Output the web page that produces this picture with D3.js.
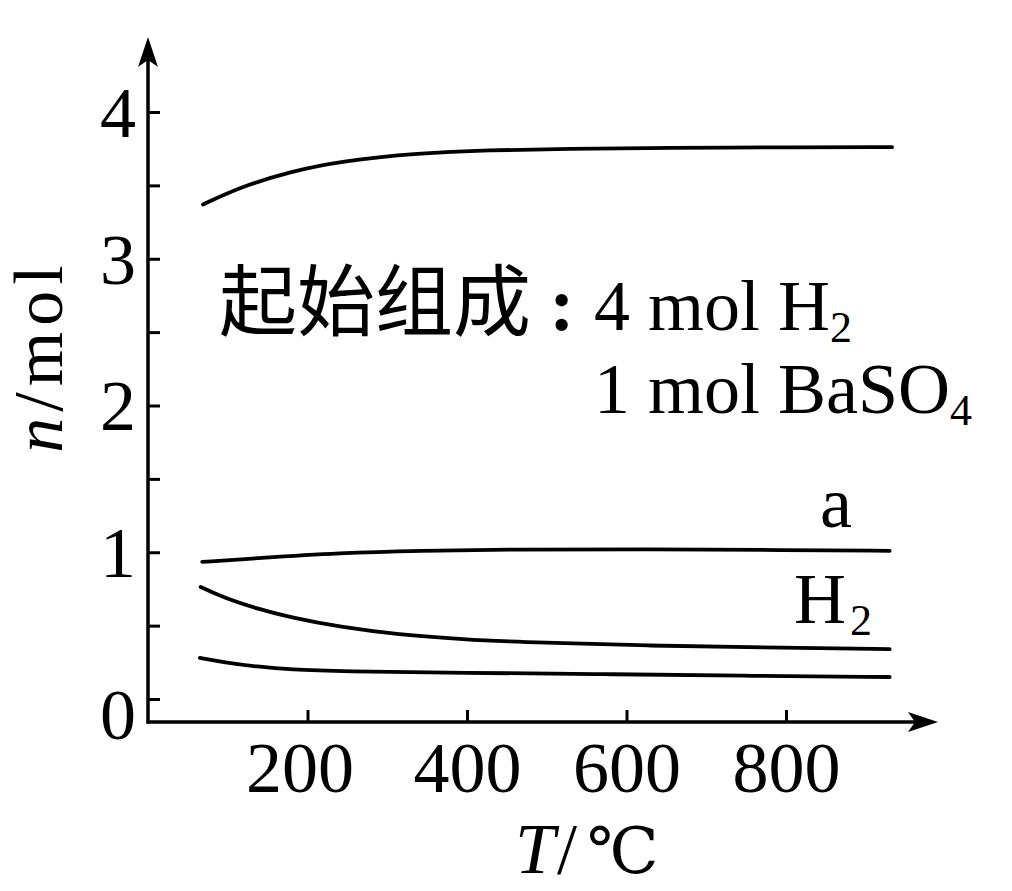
<!DOCTYPE html>
<html>
<head>
<meta charset="utf-8">
<script src="https://cdn.jsdelivr.net/npm/d3@7"></script>
<style>
  body { margin: 0; background: white; }
  svg { display: block; }
</style>
</head>
<body>
<div id="graph"></div>
<script>
// values: temperature (°C) and amount (mol)
var topT = [69, 116, 179, 240, 340, 427, 525, 649, 815, 933];
var topN = [3.37, 3.49, 3.595, 3.665, 3.72, 3.74, 3.75, 3.755, 3.76, 3.76];

var aT = [68, 137, 241, 340, 456, 629, 801, 930];
var aN = [0.934, 0.96, 0.995, 1.01, 1.02, 1.02, 1.015, 1.01];

var h2T = [66, 95, 137, 179, 241, 312, 400, 456, 629, 801, 930];
var h2N = [0.763, 0.69, 0.615, 0.555, 0.49, 0.44, 0.405, 0.39, 0.362, 0.35, 0.34];

var lowT = [65, 95, 137, 179, 241, 398, 571, 743, 930];
var lowN = [0.28, 0.25, 0.22, 0.2, 0.188, 0.178, 0.17, 0.158, 0.15];

var xTicks = [200, 400, 600, 800];
var yTicks = [0, 0.5, 1, 1.5, 2, 2.5, 3, 3.5, 4];

async function mkModel() {
  var model = {
    width: 1012,
    height: 891
  };

  model.x = d3.scaleLinear()
    .domain([0, 800])
    .range([148, 786]);

  model.y = d3.scaleLinear()
    .domain([0, 4])
    .range([699, 112]);

  // the T axis sits a bit below n = 0
  model.axisY = 722;
  model.axisTop = 37;
  model.axisRight = 938;
  model.tick = 12;

  model.serif = "'Liberation Serif', 'Times New Roman', serif";
  model.cjk = "'Noto Sans CJK SC', 'Noto Sans CJK TC', sans-serif";

  return model;
}

async function axes(container, model) {
  var x = model.x;
  var y = model.y;
  var x0 = x(0);

  var xAxis = d3.axisBottom(x)
    .tickValues(xTicks)
    .tickSize(-model.tick)
    .tickPadding(0);

  container.append('g')
    .attr('transform', 'translate(0,' + model.axisY + ')')
    .call(xAxis)
    .call((g) => g.select('.domain').remove())
    .call((g) => g.selectAll('line').attr('stroke', 'black').attr('stroke-width', 3))
    .call((g) => g.selectAll('text')
      .attr('x', (d) => d === 200 ? -8 : 0)
      .attr('y', 70)
      .attr('dy', null)
      .attr('fill', 'black')
      .attr('font-family', model.serif)
      .attr('font-size', 72));

  var yAxis = d3.axisLeft(y)
    .tickValues(yTicks)
    .tickSize(-model.tick)
    .tickPadding(0)
    .tickFormat((d) => Number.isInteger(d) ? d : '');

  container.append('g')
    .attr('transform', 'translate(' + x0 + ',0)')
    .call(yAxis)
    .call((g) => g.select('.domain').remove())
    .call((g) => g.selectAll('line').attr('stroke', 'black').attr('stroke-width', 3))
    .call((g) => g.selectAll('text')
      .attr('x', -12)
      .attr('y', (d) => d === 0 ? 15 : 0)
      .attr('dy', '0.34em')
      .attr('fill', 'black')
      .attr('font-family', model.serif)
      .attr('font-size', 72));

  // axis lines with arrow heads
  container.append('line')
    .attr('x1', x0).attr('y1', model.axisY + 1.5)
    .attr('x2', x0).attr('y2', model.axisTop + 20)
    .attr('stroke', 'black').attr('stroke-width', 3.5);

  container.append('line')
    .attr('x1', x0 - 1.5).attr('y1', model.axisY)
    .attr('x2', model.axisRight - 20).attr('y2', model.axisY)
    .attr('stroke', 'black').attr('stroke-width', 3.5);

  var t = model.axisTop;
  container.append('path')
    .attr('d', 'M' + x0 + ' ' + t + ' L' + (x0 - 10) + ' ' + (t + 30) +
      ' L' + x0 + ' ' + (t + 23) + ' L' + (x0 + 10) + ' ' + (t + 30) + ' Z')
    .attr('fill', 'black');

  var r = model.axisRight;
  var ay = model.axisY;
  container.append('path')
    .attr('d', 'M' + r + ' ' + ay + ' L' + (r - 30) + ' ' + (ay - 10) +
      ' L' + (r - 23) + ' ' + ay + ' L' + (r - 30) + ' ' + (ay + 10) + ' Z')
    .attr('fill', 'black');

  // axis titles
  var xt = container.append('text')
    .attr('x', 515)
    .attr('y', 873)
    .attr('font-family', model.serif)
    .attr('font-size', 72);
  xt.append('tspan').attr('font-style', 'italic').text('T');
  xt.append('tspan').attr('dx', 2).text('/');
  xt.append('tspan').attr('dx', 10).attr('font-family', "'DejaVu Serif', serif").attr('font-size', 64).text('℃');

  var yt = container.append('text')
    .attr('transform', 'translate(62,' + 356 + ') rotate(-90)')
    .attr('text-anchor', 'middle')
    .attr('font-family', model.serif)
    .attr('font-size', 70)
    .attr('letter-spacing', 6);
  yt.append('tspan').attr('font-style', 'italic').text('n');
  yt.append('tspan').text('/mol');
}

async function curves(container, model) {
  var x = model.x;
  var y = model.y;

  var series = [
    { t: topT, n: topN },
    { t: aT, n: aN },
    { t: h2T, n: h2N },
    { t: lowT, n: lowN }
  ].map((s) => s.t.map((t, i) => ({ t: t, n: s.n[i] })));

  var line = d3.line()
    .x((d) => x(d.t))
    .y((d) => y(d.n))
    .curve(d3.curveBasis);

  container.selectAll('#curve').data(series)
    .join('path')
    .attr('id', 'curve')
    .attr('d', line)
    .attr('fill', 'none')
    .attr('stroke', 'black')
    .attr('stroke-width', 3.8)
    .attr('stroke-linecap', 'round');
}

async function labels(container, model) {
  var serif = model.serif;

  // starting composition note
  container.append('text')
    .attr('x', 219)
    .attr('y', 330)
    .attr('font-family', model.cjk)
    .attr('font-size', 78)
    .text('起始组成');

  container.append('text')
    .attr('x', 562)
    .attr('y', 330)
    .attr('text-anchor', 'middle')
    .attr('font-family', serif)
    .attr('font-weight', 'bold')
    .attr('font-size', 76)
    .text(':');

  var l1 = container.append('text')
    .attr('x', 594)
    .attr('y', 330)
    .attr('font-family', serif)
    .attr('font-size', 72);
  l1.append('tspan').text('4 mol H');
  l1.append('tspan').attr('dy', 12).attr('font-size', 44).text('2');

  var l2 = container.append('text')
    .attr('x', 594)
    .attr('y', 413)
    .attr('font-family', serif)
    .attr('font-size', 72);
  l2.append('tspan').text('1 mol BaSO');
  l2.append('tspan').attr('dy', 12).attr('font-size', 44).text('4');

  // curve labels
  container.append('text')
    .attr('x', 820)
    .attr('y', 527)
    .attr('font-family', serif)
    .attr('font-size', 72)
    .text('a');

  var h = container.append('text')
    .attr('x', 794)
    .attr('y', 623)
    .attr('font-family', serif)
    .attr('font-size', 72);
  h.append('tspan').text('H');
  h.append('tspan').attr('dx', 4).attr('dy', 12).attr('font-size', 44).text('2');
}

async function main() {
  var model = await mkModel();
  var svg = d3.select('#graph').append('svg')
    .attr('width', model.width)
    .attr('height', model.height)
    .attr('viewBox', '0 0 ' + model.width + ' ' + model.height);

  svg.append('rect')
    .attr('width', model.width)
    .attr('height', model.height)
    .attr('fill', 'white');

  await axes(svg, model);
  await curves(svg, model);
  await labels(svg, model);
}

main();
</script>
</body>
</html>
